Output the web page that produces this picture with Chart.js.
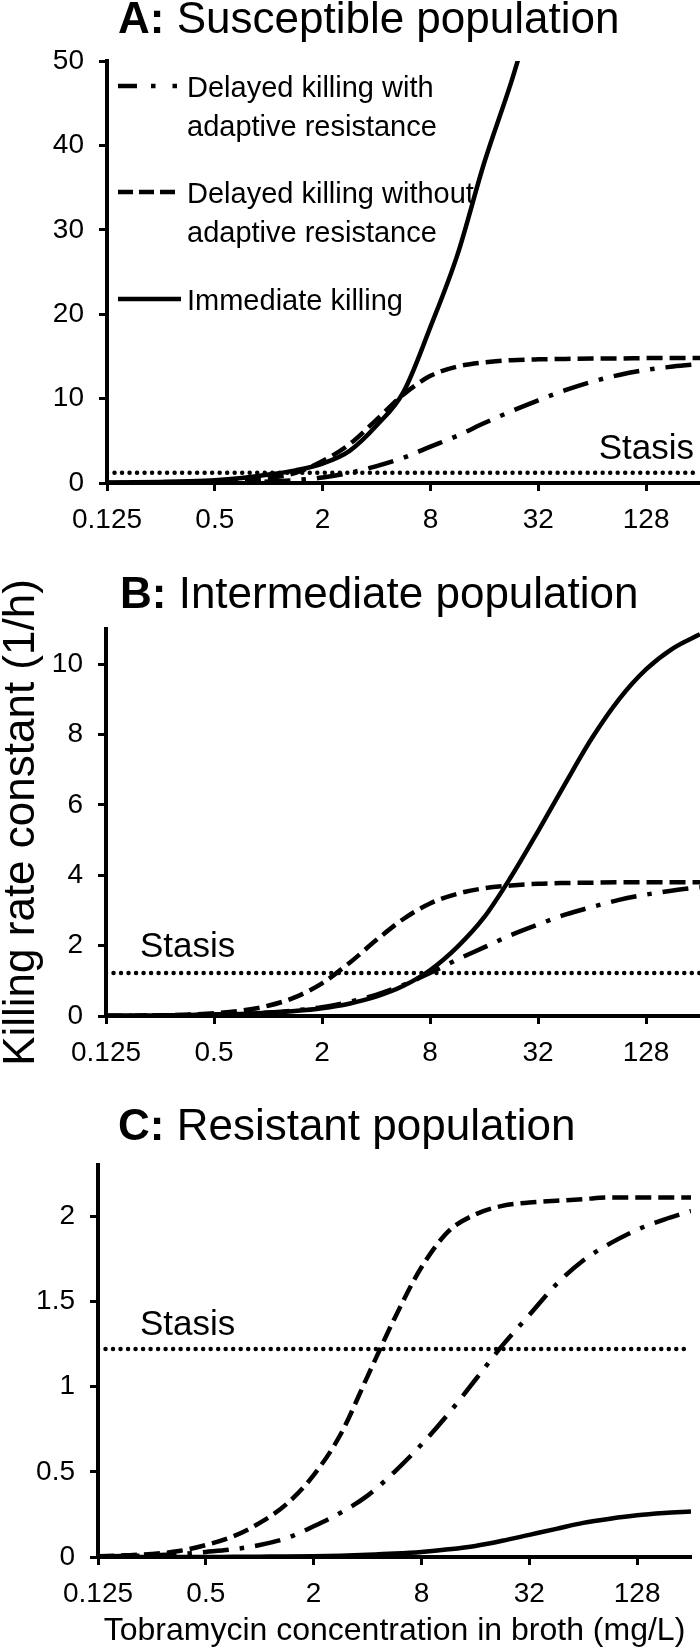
<!DOCTYPE html>
<html>
<head>
<meta charset="utf-8">
<script src="https://cdn.jsdelivr.net/npm/chart.js@4.4.1/dist/chart.umd.min.js"></script>
<style>
html, body { margin: 0; padding: 0; background: #fff; }
#wrap { position: relative; width: 700px; height: 1650px; overflow: hidden; background: #fff; }
#wrap canvas { position: absolute; left: 0; }
</style>
</head>
<body>
<div id="wrap">
  <canvas id="panelA" width="700" height="560" style="top:0px"></canvas>
  <canvas id="panelB" width="700" height="520" style="top:560px"></canvas>
  <canvas id="panelC" width="700" height="570" style="top:1080px"></canvas>
</div>
<script>
// ---------------- DATA ----------------
const concentrations = [0.125, 0.177, 0.25, 0.354, 0.5, 0.707, 1, 1.41, 2, 2.83, 4, 5.66, 8, 11.3, 16, 22.6, 32, 45.3, 64, 90.5, 128, 181, 256];
const xTickValues = [0.125, 0.5, 2, 8, 32, 128];
const xTickLabels = ['0.125', '0.5', '2', '8', '32', '128'];
const stasisRate = 1.22;
const legendLabels = [
  ['Delayed killing with', 'adaptive resistance'],
  ['Delayed killing without', 'adaptive resistance'],
  ['Immediate killing']
];

// A: Susceptible population
const susceptibleAdaptive   = [0, 0, 0.01, 0.02, 0.04, 0.08, 0.17, 0.35, 0.65, 1.2, 2.0, 3.0, 4.3, 5.6, 7.1, 8.5, 9.8, 11.0, 12.0, 12.8, 13.4, 13.8, 14.1];
const susceptibleNoAdaptive = [0.01, 0.02, 0.03, 0.05, 0.11, 0.24, 0.6, 1.2, 2.6, 4.6, 7.5, 10.5, 12.7, 13.8, 14.3, 14.55, 14.65, 14.7, 14.75, 14.75, 14.8, 14.8, 14.8];
const susceptibleImmediate  = [0.05, 0.08, 0.13, 0.2, 0.33, 0.6, 1.0, 1.5, 2.3, 3.8, 6.8, 10.8, 18.5, 27, 38, 47.5, 58, 66, null, null, null, null, null];

// B: Intermediate population
const intermediateAdaptive   = [0.005, 0.01, 0.015, 0.025, 0.045, 0.07, 0.1, 0.16, 0.25, 0.4, 0.6, 0.88, 1.22, 1.6, 1.95, 2.3, 2.6, 2.88, 3.1, 3.3, 3.45, 3.57, 3.66];
const intermediateNoAdaptive = [0.005, 0.01, 0.019, 0.039, 0.076, 0.15, 0.29, 0.53, 0.93, 1.5, 2.15, 2.75, 3.2, 3.47, 3.63, 3.71, 3.76, 3.78, 3.79, 3.8, 3.8, 3.8, 3.8];
const intermediateImmediate  = [0.005, 0.01, 0.015, 0.025, 0.04, 0.06, 0.09, 0.14, 0.22, 0.35, 0.55, 0.85, 1.3, 1.95, 2.8, 3.95, 5.25, 6.6, 7.9, 9.0, 9.85, 10.45, 10.85];

// C: Resistant population
const resistantAdaptive   = [0.003, 0.006, 0.01, 0.017, 0.03, 0.045, 0.07, 0.11, 0.18, 0.26, 0.36, 0.5, 0.66, 0.84, 1.04, 1.24, 1.42, 1.6, 1.74, 1.84, 1.92, 1.98, 2.03];
const resistantNoAdaptive = [0.005, 0.01, 0.018, 0.035, 0.07, 0.12, 0.2, 0.31, 0.48, 0.72, 1.06, 1.4, 1.7, 1.91, 2.01, 2.06, 2.08, 2.09, 2.1, 2.11, 2.11, 2.11, 2.11];
const resistantImmediate  = [0, 0, 0, 0, 0, 0.001, 0.002, 0.003, 0.005, 0.008, 0.013, 0.02, 0.03, 0.045, 0.065, 0.095, 0.13, 0.165, 0.2, 0.225, 0.245, 0.258, 0.267];

const yTicksSusceptible  = [0, 10, 20, 30, 40, 50];
const yTicksIntermediate = [0, 2, 4, 6, 8, 10];
const yTicksResistant    = [0, 0.5, 1, 1.5, 2];
const yMaxSusceptible = 50;
const yMaxIntermediate = 11;
const yMaxResistant = 2.3;

// ---------------- STYLE ----------------
const FONT = "'Liberation Sans', Arial, Helvetica, sans-serif";
Chart.defaults.font.family = FONT;
Chart.defaults.color = '#000';
const lineDashes = [[26, 11, 4.5, 11], [16, 7], []];
const legendDashes = [[19, 14, 4.5, 17, 4.5, 100], [15, 6], []];

const panelDecor = {
  id: 'panelDecor',
  afterDraw(chart, args, o) {
    const ctx = chart.ctx;
    const area = chart.chartArea;
    ctx.save();
    ctx.fillStyle = '#000';
    ctx.textBaseline = 'alphabetic';
    ctx.textAlign = 'left';
    // Title: bold letter + regular text
    ctx.font = 'bold ' + o.titleSize + 'px ' + FONT;
    ctx.fillText(o.titleBold, o.titleX, o.titleY);
    const w = ctx.measureText(o.titleBold + ' ').width;
    ctx.font = o.titleSize + 'px ' + FONT;
    ctx.fillText(o.titleText, o.titleX + w, o.titleY);
    // Stasis label
    const ys = chart.scales.y.getPixelForValue(stasisRate);
    ctx.font = o.stasisSize + 'px ' + FONT;
    if (o.stasisAlign === 'right') {
      ctx.textAlign = 'right';
      ctx.fillText('Stasis', area.right - 6, ys - o.stasisGap);
    } else {
      ctx.textAlign = 'left';
      ctx.fillText('Stasis', area.left + o.stasisOffset, ys - o.stasisGap);
    }
    // Legend
    if (o.legend) {
      const L = o.legend;
      ctx.textAlign = 'left';
      ctx.font = L.size + 'px ' + FONT;
      L.baselines.forEach((b, i) => {
        const ds = chart.data.datasets[i];
        ctx.save();
        ctx.strokeStyle = '#000';
        ctx.lineWidth = ds.borderWidth;
        ctx.setLineDash(legendDashes[i]);
        ctx.beginPath();
        ctx.moveTo(L.x0, b - L.sampleRaise);
        ctx.lineTo(L.x1, b - L.sampleRaise);
        ctx.stroke();
        ctx.restore();
        legendLabels[i].forEach((line, k) => {
          ctx.fillText(line, L.textX, b + k * L.lineGap);
        });
      });
    }
    ctx.restore();
  }
};

function makePanel(id, p) {
  const datasets = p.series.map((vals, i) => ({
    label: legendLabels[i].join(' '),
    data: concentrations.map((c, k) => ({ x: c, y: vals[k] })),
    borderColor: '#000',
    borderWidth: 4.5,
    borderDash: lineDashes[i],
    pointRadius: 0,
    cubicInterpolationMode: 'monotone',
    fill: false,
    spanGaps: false
  }));
  datasets.push({
    label: 'Stasis',
    data: [{ x: 0.125, y: stasisRate }, { x: 256, y: stasisRate }],
    borderColor: '#000',
    borderWidth: 4.5,
    borderDash: [0.01, 7.5],
    borderCapStyle: 'round',
    pointRadius: 0,
    fill: false
  });
  const tickGrid = { display: true, drawOnChartArea: false, drawTicks: true, tickLength: 8, tickWidth: 3, tickColor: '#000' };
  const border = { display: true, color: '#000', width: 4 };
  return new Chart(document.getElementById(id), {
    type: 'line',
    data: { datasets },
    options: {
      responsive: false,
      animation: false,
      events: [],
      layout: { padding: { top: p.top, right: p.right, bottom: 0, left: 0 } },
      plugins: {
        legend: { display: false },
        tooltip: { enabled: false },
        panelDecor: p.decor
      },
      scales: {
        x: {
          type: 'logarithmic',
          min: 0.125,
          max: 256,
          afterBuildTicks: s => { s.ticks = xTickValues.map(v => ({ value: v })); },
          afterFit: s => { s.height = p.xHeight; },
          ticks: { callback: (v, i) => xTickLabels[i], font: { size: 28 }, color: '#000', padding: 12, maxRotation: 0, autoSkip: false },
          grid: tickGrid,
          border: border,
          title: p.xTitle ? { display: true, text: p.xTitle, font: { size: 32, lineHeight: 1 }, color: '#000', padding: { top: 0, bottom: 3 } } : { display: false }
        },
        y: {
          type: 'linear',
          min: 0,
          max: p.yMax,
          afterBuildTicks: s => { s.ticks = p.yTicks.map(v => ({ value: v })); },
          afterFit: s => { s.width = p.yWidth; },
          ticks: { callback: v => String(v), font: { size: 28 }, color: '#000', padding: 15 },
          grid: tickGrid,
          border: border,
          title: p.yTitle ? { display: true, text: p.yTitle, font: { size: 44, lineHeight: 1 }, color: '#000', padding: { top: 0, bottom: 0 } } : { display: false }
        }
      }
    },
    plugins: [panelDecor]
  });
}

makePanel('panelA', {
  series: [susceptibleAdaptive, susceptibleNoAdaptive, susceptibleImmediate],
  yTicks: yTicksSusceptible, yMax: yMaxSusceptible,
  top: 61, right: 0, xHeight: 77, yWidth: 107,
  decor: {
    titleBold: 'A:', titleText: 'Susceptible population', titleSize: 44, titleX: 118, titleY: 33,
    stasisAlign: 'right', stasisSize: 35, stasisGap: 14,
    legend: { size: 29, x0: 118, x1: 181, textX: 187, baselines: [97, 203, 310], lineGap: 39, sampleRaise: 11 }
  }
});

makePanel('panelB', {
  series: [intermediateAdaptive, intermediateNoAdaptive, intermediateImmediate],
  yTicks: yTicksIntermediate, yMax: yMaxIntermediate,
  top: 69, right: 0, xHeight: 64, yWidth: 106,
  yTitle: 'Killing rate constant (1/h)',
  decor: {
    titleBold: 'B:', titleText: 'Intermediate population', titleSize: 44, titleX: 120, titleY: 48,
    stasisAlign: 'left', stasisOffset: 34, stasisSize: 35, stasisGap: 16
  }
});

makePanel('panelC', {
  series: [resistantAdaptive, resistantNoAdaptive, resistantImmediate],
  yTicks: yTicksResistant, yMax: yMaxResistant,
  top: 85, right: 9, xHeight: 93, yWidth: 98,
  xTitle: 'Tobramycin concentration in broth (mg/L)',
  decor: {
    titleBold: 'C:', titleText: 'Resistant population', titleSize: 44, titleX: 118, titleY: 60,
    stasisAlign: 'left', stasisOffset: 42, stasisSize: 35, stasisGap: 14
  }
});
</script>
</body>
</html>
